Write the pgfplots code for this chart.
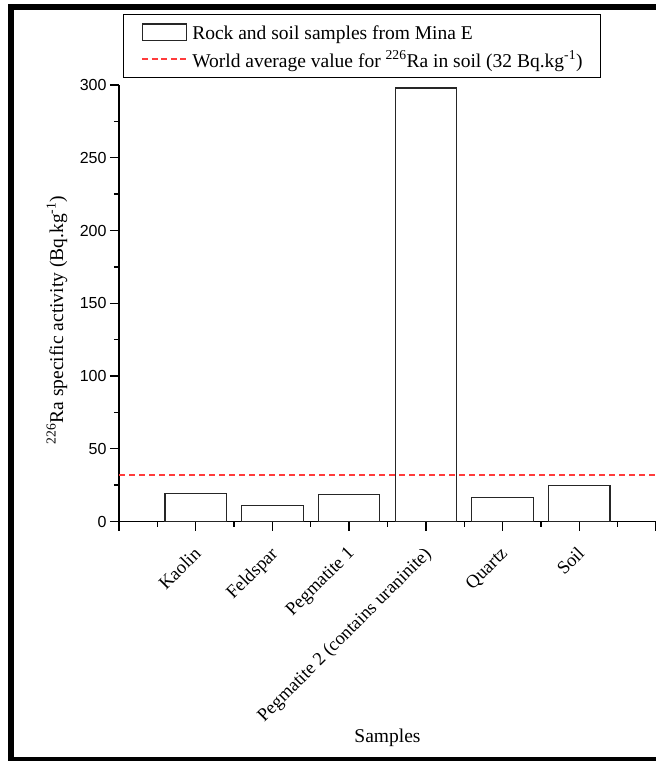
\documentclass[border=0pt]{standalone}
\usepackage{fontspec}
\setmainfont{Liberation Serif}
\newfontfamily\arialfont{Liberation Sans}
\usepackage{pgfplots}
\pgfplotsset{compat=1.18}
\definecolor{avgred}{RGB}{255,60,60}
\newcommand\lstrut{\rule[-4pt]{0pt}{19pt}}
\pgfplotsset{
  barleg/.style={legend image code/.code={\draw[##1, fill=white] (0pt,-8.3pt) rectangle (44pt,8.3pt);}},
  redleg/.style={legend image code/.code={\draw[##1, draw=avgred, line width=1.6pt, dash pattern=on 6pt off 3.5pt] (0pt,0.5pt) -- (44pt,0.5pt);}},
}
\begin{document}
\begin{tikzpicture}[x=1pt,y=1pt]
\useasboundingbox (0,0) rectangle (656,761);
\begin{axis}[
  at={(119pt,239.5pt)}, anchor=south west,
  scale only axis, width=537pt, height=436.5pt,
  xmin=0, xmax=7, ymin=0, ymax=300,
  axis x line=bottom, axis y line=left,
  axis line style={-, line width=1.5pt},
  xtick={0,1,2,3,4,5,6,7},
  xticklabels={{},Kaolin,Feldspar,Pegmatite 1,Pegmatite 2 (contains uraninite),Quartz,Soil,{}},
  minor xtick={0.5,1.5,2.5,3.5,4.5,5.5,6.5},
  ytick={0,50,100,150,200,250,300},
  minor ytick={25,75,125,175,225,275},
  tick align=outside, major tick length=9pt, minor tick length=5pt,
  tick style={line width=1.4pt, black},
  yticklabel style={font=\arialfont\fontsize{16}{19}\selectfont, /pgf/number format/assume math mode=true},
  xticklabel style={font=\fontsize{18.5}{22}\selectfont, xshift=-3pt, yshift=-15pt, rotate=45, anchor=north east, inner sep=0pt},
  label style={font=\fontsize{19.5}{23}\selectfont},
  ylabel={\textsuperscript{226}Ra specific activity (Bq.kg\textsuperscript{-1})},
  ylabel style={at={(axis description cs:-0.1155,0.4616)}, anchor=center},
  xlabel={Samples},
  xlabel style={at={(axis description cs:0.5,-0.5074)}, anchor=base},
  legend style={at={(axis description cs:0.008,1.1627)}, anchor=north west,
    draw=black, line width=0.8pt, fill=white,
    inner xsep=18pt, inner ysep=9pt, row sep=9.3pt, column sep=5pt,
    font=\fontsize{19.5}{23}\selectfont, nodes={inner sep=0pt}, cells={anchor=west}},
  legend cell align=left,
]
\addplot[ybar, bar width=0.8, fill=white, draw=black!85, line width=1.2pt, barleg]
  coordinates {(1,19.2) (2,10.8) (3,18.6) (4,298) (5,16.5) (6,24.5)};
\addlegendentry{\lstrut Rock and soil samples from Mina E}
\addplot[draw=avgred, line width=1.6pt, dash pattern=on 6pt off 4pt, redleg]
  coordinates {(0,32) (7,32)};
\addlegendentry{\lstrut World average value for \textsuperscript{226}Ra in soil (32 Bq.kg\textsuperscript{-1})}
\end{axis}
\draw[line width=6pt] (11,1) rectangle (720,754);
\end{tikzpicture}
\end{document}
